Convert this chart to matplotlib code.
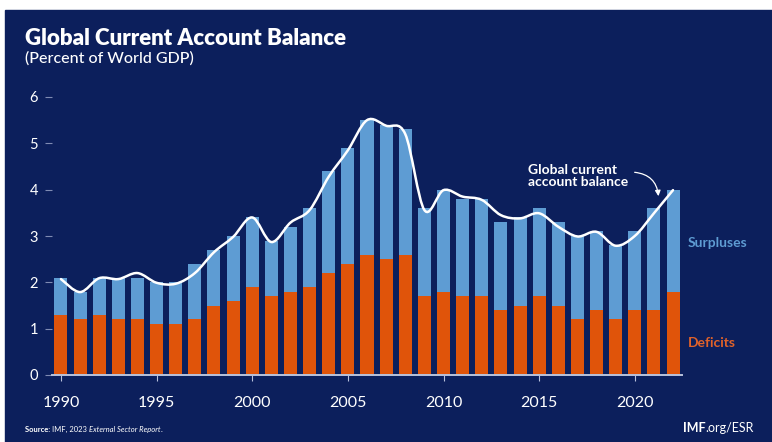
import matplotlib
matplotlib.use('Agg')
import matplotlib.pyplot as plt
import numpy as np
from matplotlib.patches import Rectangle, PathPatch
from matplotlib.path import Path

plt.rcParams['font.family'] = ['Lato', 'DejaVu Sans']

# data (percent of world GDP)
years = list(range(1990, 2023))
surplus_total = [2.1, 1.8, 2.1, 2.1, 2.1, 2.0, 2.0, 2.4, 2.7, 3.0, 3.4, 2.9, 3.2,
                 3.6, 4.4, 4.9, 5.5, 5.4, 5.3, 3.6, 4.0, 3.8, 3.8, 3.3, 3.4, 3.6,
                 3.3, 3.0, 3.1, 2.8, 3.1, 3.6, 4.0]
deficits = [1.3, 1.2, 1.3, 1.2, 1.2, 1.1, 1.1, 1.2, 1.5, 1.6, 1.9, 1.7, 1.8,
            1.9, 2.2, 2.4, 2.6, 2.5, 2.6, 1.7, 1.8, 1.7, 1.7, 1.4, 1.5, 1.7,
            1.5, 1.2, 1.4, 1.2, 1.4, 1.4, 1.8]
balance = [2.07, 1.79, 2.09, 2.07, 2.2, 1.99, 1.97, 2.2, 2.65, 2.98, 3.4, 2.87,
           3.29, 3.56, 4.28, 4.85, 5.5, 5.38, 5.2, 3.56, 3.99, 3.85, 3.78, 3.45,
           3.38, 3.49, 3.2, 2.99, 3.09, 2.79, 3.0, 3.49, 3.99]
yticks = [0, 1, 2, 3, 4, 5, 6]
xticks = [1990, 1995, 2000, 2005, 2010, 2015, 2020]

navy = '#0c1f5c'
c_surp = '#5e9cd3'
c_def = '#e0540a'

fig = plt.figure(figsize=(7.72, 4.42), dpi=100, facecolor='white')
fig.patches.append(Rectangle((5 / 772, 0), 1, (442 - 10) / 442,
                             transform=fig.transFigure, color=navy, zorder=-10))

ax = fig.add_axes([52 / 772, 67 / 442, 630 / 772, 278 / 442])
ax.set_facecolor('none')

# surpluses are drawn full height, deficits on top from zero
ax.bar(years, surplus_total, width=0.68, color=c_surp, zorder=2)
ax.bar(years, deficits, width=0.68, color=c_def, zorder=3)

# smooth line through the balance points (catmull-rom as bezier curves)
pts = np.column_stack([years, balance]).astype(float)
verts = [tuple(pts[0])]
codes = [Path.MOVETO]
n = len(pts)
for i in range(n - 1):
    p0 = pts[max(i - 1, 0)]
    p1 = pts[i]
    p2 = pts[i + 1]
    p3 = pts[min(i + 2, n - 1)]
    c1 = p1 + (p2 - p0) / 6
    c2 = p2 - (p3 - p1) / 6
    verts += [tuple(c1), tuple(c2), tuple(p2)]
    codes += [Path.CURVE4] * 3
ax.add_patch(PathPatch(Path(verts, codes), fill=False, edgecolor='white',
                       lw=1.8, zorder=5, capstyle='round'))

ax.set_xlim(1989.53, 2022.47)
ax.set_ylim(0, 6)
ax.set_yticks(yticks)
ax.set_xticks(xticks)
for s in ['top', 'right', 'left']:
    ax.spines[s].set_visible(False)
ax.spines['bottom'].set_color('#b9c2dc')
ax.spines['bottom'].set_linewidth(1.4)
ax.spines['bottom'].set_zorder(6)
ax.tick_params(axis='y', length=5, width=0.8, color='#7f8bb3', pad=5,
               labelcolor='white', labelsize=10.5)
ax.tick_params(axis='x', length=4, width=0.8, color='#b9c2dc', pad=11,
               labelcolor='white', labelsize=11.5)

# annotation
ax.text(2014.4, 4.55, 'Global current\naccount balance', color='white',
        fontsize=10, fontweight='bold', va='top', ha='left', linespacing=0.95)
ax.annotate('', xy=(2021.25, 3.8), xytext=(2019.85, 4.38),
            arrowprops=dict(arrowstyle='-|>', color='white', lw=0.9,
                            mutation_scale=8,
                            connectionstyle='arc3,rad=-0.45'))

fig.text(688 / 772, (442 - 243) / 442, 'Surpluses', color=c_surp,
         fontsize=10, fontweight='bold', va='center', ha='left')
fig.text(688 / 772, (442 - 343) / 442, 'Deficits', color='#e0622a',
         fontsize=10, fontweight='bold', va='center', ha='left')

# titles
fig.text(25 / 772, (442 - 45) / 442, 'Global Current Account Balance',
         color='white', fontsize=16, fontweight='heavy', va='baseline')
fig.text(25 / 772, (442 - 63) / 442, '(Percent of World GDP)',
         color='white', fontsize=11.5, fontweight='medium', va='baseline')

# footer
fs = 5.5
src_y = (442 - 432) / 442
t1 = fig.text(25 / 772, src_y, 'Source: ', color='white', fontsize=fs,
              fontweight='bold', va='baseline')
fig.canvas.draw()
r = fig.canvas.get_renderer()
x = t1.get_window_extent(r).x1 / 772
t2 = fig.text(x, src_y, 'IMF, 2023 ', color='white', fontsize=fs, va='baseline')
x = t2.get_window_extent(r).x1 / 772
t3 = fig.text(x, src_y, 'External Sector Report', color='white', fontsize=fs,
              style='italic', va='baseline')
x = t3.get_window_extent(r).x1 / 772
fig.text(x, src_y, '.', color='white', fontsize=fs, va='baseline')

t5 = fig.text(754 / 772, src_y, '.org/ESR', color='white', fontsize=9,
              va='baseline', ha='right')
x = t5.get_window_extent(r).x0 / 772
fig.text(x, src_y, 'IMF', color='white', fontsize=9, fontweight='bold',
         va='baseline', ha='right')

fig.savefig('out.png', dpi=100, facecolor=fig.get_facecolor())
